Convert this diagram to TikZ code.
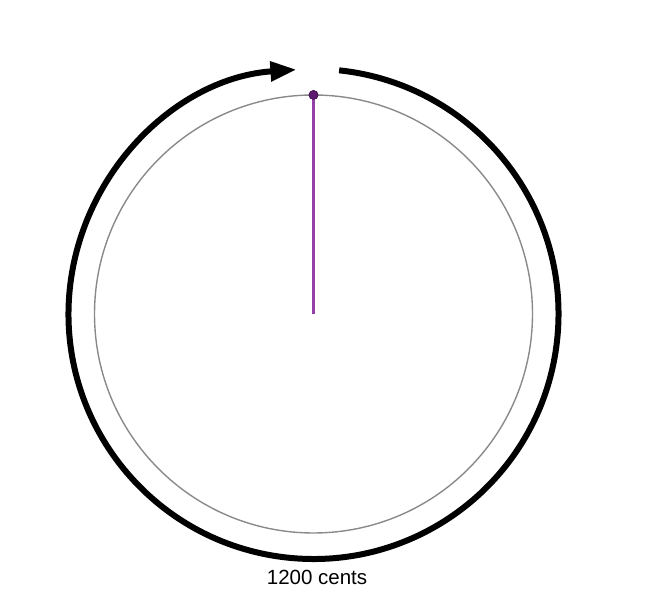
\documentclass[tikz,border=0pt]{standalone}
\usepackage{fontspec}
\setmainfont{Liberation Sans}
\usetikzlibrary{arrows.meta,calc}
\definecolor{ringgray}{HTML}{8A8A8A}
\definecolor{handpurple}{HTML}{9440A8}
\definecolor{dotpurple}{HTML}{5E1A6E}
\tikzset{
  ring/.style={circle,draw=ringgray,line width=1.4pt,minimum size=438pt,inner sep=0pt},
  cycle arrow/.style={line width=6pt,-{Triangle[length=26pt,width=19pt]}},
  hand/.style={handpurple,line width=2.6pt},
  handdot/.style={circle,fill=dotpurple,draw=dotpurple!70!black,line width=0.6pt,minimum size=9pt,inner sep=0pt},
  caption/.style={font=\fontsize{20.5}{24}\selectfont,inner sep=0pt}
}
\begin{document}
\begin{tikzpicture}[x=1pt,y=1pt]
\useasboundingbox (0,0) rectangle (646,600);
\coordinate (c) at (313.5,286);
\node[ring] (inner) at (c) {};
\node[handdot] (dot) at ($(c)+(0,219)$) {};
\coordinate (s) at ($(c)+(84:245)$);
\draw[cycle arrow] (s) arc[start angle=84,end angle=-266,radius=245];
\draw[hand] (c) -- (dot.center);
\node[handdot] at (dot) {};
\node[caption] (lbl) at (317,23) {1200 cents};
\end{tikzpicture}
\end{document}
